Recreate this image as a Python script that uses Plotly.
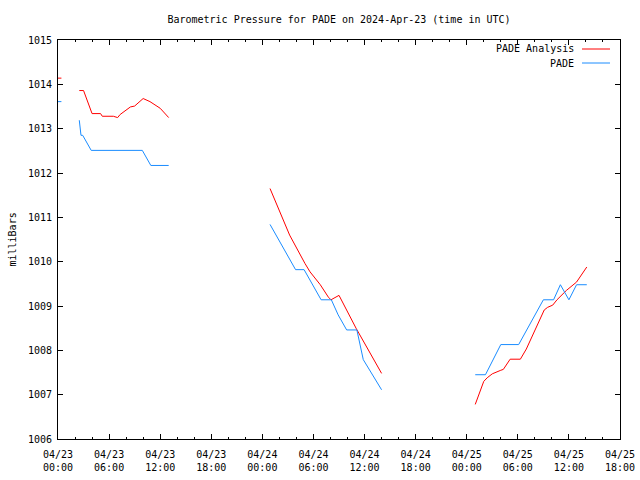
import pandas as pd
import plotly.graph_objects as go

BASE = pd.Timestamp("2024-04-23 00:00")

# Hours after 2024-04-23 00:00 UTC; None breaks the line (missing data)
red_hours = [-0.6, 0.4, None,
             2.5, 3.0, 4.0, 5.0, 5.2, 6.5, 7.0, 7.3, 8.5, 9.0, 10.0, 10.8, 12.0, 13.0, None,
             24.9, 25.9, 27.2, 29.0, 29.6, 30.8, 31.75, 32.06, 33.0, 35.0, 36.05, 38.0, None,
             49.0, 50.0, 50.4, 51.0, 52.0, 52.3, 53.1, 54.3, 55.0, 57.1, 57.5, 58.1, 58.6, 59.7, 60.9, 62.1]
red_values = [1014.14, 1014.14, None,
              1013.86, 1013.86, 1013.34, 1013.34, 1013.28, 1013.28, 1013.25, 1013.32, 1013.49, 1013.51,
              1013.68, 1013.61, 1013.46, 1013.25, None,
              1011.65, 1011.20, 1010.60, 1009.96, 1009.77, 1009.48, 1009.20, 1009.14, 1009.24, 1008.50,
              1008.14, 1007.48, None,
              1006.78, 1007.30, 1007.38, 1007.47, 1007.55, 1007.57, 1007.80, 1007.80, 1008.03, 1008.91,
              1008.97, 1009.02, 1009.14, 1009.35, 1009.54, 1009.88]

blue_hours = [-0.6, 0.4, None,
              2.5, 2.7, 2.9, 3.9, 9.9, 10.9, 13.0, None,
              24.9, 25.9, 26.9, 27.9, 28.9, 29.9, 30.9, 32.1, 32.9, 33.9, 35.1, 35.85, 36.4, 38.0, None,
              49.0, 50.2, 52.0, 54.1, 57.0, 58.2, 59.0, 60.0, 60.9, 62.1]
blue_values = [1013.61, 1013.61, None,
               1013.19, 1012.85, 1012.85, 1012.51, 1012.51, 1012.17, 1012.17, None,
               1010.84, 1010.50, 1010.16, 1009.82, 1009.82, 1009.48, 1009.14, 1009.14, 1008.80, 1008.46,
               1008.46, 1007.79, 1007.62, 1007.11, None,
               1007.45, 1007.45, 1008.13, 1008.13, 1009.14, 1009.14, 1009.48, 1009.14, 1009.48, 1009.48]

tick_hours = [0, 6, 12, 18, 24, 30, 36, 42, 48, 54, 60, 66]
tick_labels = ["04/23<br>00:00", "04/23<br>06:00", "04/23<br>12:00", "04/23<br>18:00",
               "04/24<br>00:00", "04/24<br>06:00", "04/24<br>12:00", "04/24<br>18:00",
               "04/25<br>00:00", "04/25<br>06:00", "04/25<br>12:00", "04/25<br>18:00"]
y_ticks = [1006, 1007, 1008, 1009, 1010, 1011, 1012, 1013, 1014, 1015]

series_names = ["PADE Analysis", "PADE"]
series_colors = ["#ff0000", "#1a8cff"]


def to_time(hours):
    return [None if h is None else BASE + pd.Timedelta(hours=h) for h in hours]


FONT = "DejaVu Sans Mono"

fig = go.Figure()
fig.add_trace(go.Scatter(x=to_time(red_hours), y=red_values, mode="lines",
                         line=dict(color=series_colors[0], width=1), connectgaps=False,
                         name=series_names[0], showlegend=False))
fig.add_trace(go.Scatter(x=to_time(blue_hours), y=blue_values, mode="lines",
                         line=dict(color=series_colors[1], width=1), connectgaps=False,
                         name=series_names[1], showlegend=False))

fig.update_layout(
    width=640, height=480,
    margin=dict(l=58, r=20, t=40, b=41, autoexpand=False),
    paper_bgcolor="white", plot_bgcolor="white",
    font=dict(family=FONT, size=10, color="black"),
    showlegend=False,
    title=dict(text="Barometric Pressure for PADE on 2024-Apr-23 (time in UTC)",
               x=0.5, xref="paper", xanchor="center",
               y=1 - 19 / 480, yref="container", yanchor="middle", automargin=False,
               font=dict(family=FONT, size=10, color="black")),
    xaxis=dict(
        range=[BASE, BASE + pd.Timedelta(hours=66)],
        tickvals=to_time(tick_hours), ticktext=tick_labels,
        ticks="inside", ticklen=5, tickcolor="black", tickwidth=1,
        showline=True, linecolor="black", linewidth=1, mirror="ticks",
        showgrid=False, zeroline=False, automargin=False,
        ticklabelstandoff=6,
        minor=dict(ticks="inside", ticklen=2, dtick=2 * 3600 * 1000,
                   tick0=BASE, tickcolor="black", showgrid=False),
        tickfont=dict(family=FONT, size=10, color="black"),
    ),
    yaxis=dict(
        range=[1006, 1015], tickvals=y_ticks,
        ticks="inside", ticklen=5, tickcolor="black", tickwidth=1,
        showline=True, linecolor="black", linewidth=1, mirror="ticks",
        showgrid=False, zeroline=False, automargin=False,
        ticklabelstandoff=3,
        tickfont=dict(family=FONT, size=10, color="black"),
    ),
)

# y-axis title
fig.add_annotation(text="milliBars", xref="paper", yref="paper",
                   x=(12 - 58) / 562, y=0.5, textangle=-90, showarrow=False,
                   xanchor="center", yanchor="middle",
                   font=dict(family=FONT, size=10, color="black"))

# gnuplot-style key: text right-aligned, sample line to the right
key_y = [1 - 9 / 399, 1 - 23 / 399]
for name, color, ky in zip(series_names, series_colors, key_y):
    fig.add_annotation(text=name, xref="paper", yref="paper",
                       x=(576 - 58) / 562, y=ky, showarrow=False,
                       xanchor="right", yanchor="middle",
                       font=dict(family=FONT, size=10, color="black"))
    fig.add_shape(type="line", xref="paper", yref="paper",
                  x0=(582 - 58) / 562, x1=(610 - 58) / 562, y0=ky, y1=ky,
                  line=dict(color=color, width=1))

fig.write_html("out.html", config={"displayModeBar": False},
               post_script="document.body.style.margin='0px';document.body.style.overflow='hidden';")
